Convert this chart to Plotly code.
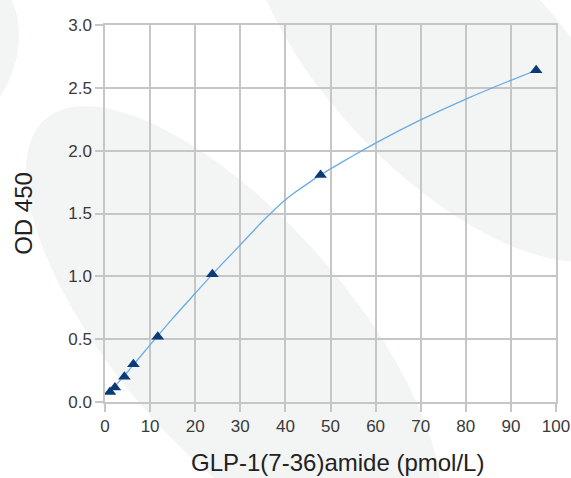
import numpy as np
import plotly.graph_objects as go

# ---- data ----
conc = [1.1, 2.2, 4.3, 6.3, 11.7, 23.8, 47.8, 95.6]          # GLP-1(7-36)amide (pmol/L)
od450 = [0.08, 0.115, 0.20, 0.30, 0.52, 1.016, 1.807, 2.64]   # OD 450

# fitted standard curve
fit_x = [1.1, 5, 10, 15, 20, 23.8, 30, 35, 40, 42, 45, 47.8, 50, 55, 60, 65, 70, 80, 90, 95.6]
fit_y = [0.08, 0.24, 0.455, 0.665, 0.865, 1.016, 1.25, 1.44, 1.61, 1.665, 1.74, 1.807,
         1.855, 1.96, 2.06, 2.155, 2.245, 2.41, 2.56, 2.64]

x_ticks = list(range(0, 101, 10))
y_ticks = [0.0, 0.5, 1.0, 1.5, 2.0, 2.5, 3.0]
x_title = "GLP-1(7-36)amide (pmol/L)"
y_title = "OD 450"

W, H = 571, 478
L, R, T, B = 105, 556, 25, 402   # plot area in pixels


def to_paper(px, py):
    return (px - L) / (R - L), (B - py) / (B - T)


def fit_ellipse(pts, n=180):
    p = np.asarray(pts, float)
    x, y = p[:, 0], p[:, 1]
    D = np.column_stack([x * x, x * y, y * y, x, y])
    A, Bc, C, Dd, E = np.linalg.lstsq(D, np.ones(len(x)), rcond=None)[0]
    M = np.array([[2 * A, Bc], [Bc, 2 * C]])
    c = np.linalg.solve(M, [-Dd, -E])
    F = A * c[0] ** 2 + Bc * c[0] * c[1] + C * c[1] ** 2 + Dd * c[0] + E * c[1] - 1
    Q = np.array([[A, Bc / 2], [Bc / 2, C]])
    lam, vec = np.linalg.eigh(Q)
    r = np.sqrt(-F / lam)
    t = np.linspace(0, 2 * np.pi, n)
    pts_out = c[:, None] + vec @ (r[:, None] * np.vstack([np.cos(t), np.sin(t)]))
    return pts_out.T


def ellipse(cx, cy, a, b, theta_deg, n=180):
    th = np.radians(theta_deg)
    t = np.linspace(0, 2 * np.pi, n)
    x = cx + a * np.cos(t) * np.cos(th) - b * np.sin(t) * np.sin(th)
    y = cy + a * np.cos(t) * np.sin(th) + b * np.sin(t) * np.cos(th)
    return np.column_stack([x, y])


def path_of(pts):
    s = []
    for i, (px, py) in enumerate(pts):
        u, v = to_paper(px, py)
        s.append(("M" if i == 0 else "L") + f"{u:.4f},{v:.4f}")
    return " ".join(s) + " Z"


bg = "#f3f4f4"
big_ll = fit_ellipse([(73, 104), (18, 167), (36, 233), (91, 333), (146, 400), (204, 478),
                      (200, 153), (333, 270), (400, 367), (437, 478), (40, 130), (120, 110)])
big_tr = fit_ellipse([(269, 0), (298, 60), (327, 120), (350, 135), (380, 140), (447, 193),
                      (513, 240), (571, 274), (537, 0), (571, 33)])
small_tl = ellipse(-55, 52, 90, 70, -65)

shapes = [dict(type="path", path=path_of(p), xref="paper", yref="paper",
               fillcolor=bg, line=dict(width=0), layer="below")
          for p in (big_ll, big_tr, small_tl)]

grid = "#c6c6c8"
font = "Liberation Sans, Arial, Helvetica, sans-serif"

fig = go.Figure()
fig.add_trace(go.Scatter(x=fit_x, y=fit_y, mode="lines",
                         line=dict(color="#6aade4", width=1.3, shape="spline", smoothing=0.6),
                         hoverinfo="skip", showlegend=False))
fig.add_trace(go.Scatter(x=conc, y=od450, mode="markers",
                         marker=dict(symbol="triangle-up", size=11, color="#0b3a78"),
                         showlegend=False))

axis_common = dict(showgrid=True, gridcolor=grid, gridwidth=1.5, zeroline=False,
                   showline=True, linecolor=grid, linewidth=1.5, mirror=True,
                   ticks="outside", ticklen=8, tickwidth=1.5, tickcolor=grid,
                   automargin=False,
                   tickfont=dict(family=font, size=17, color="#3a3a3a"))

fig.update_layout(
    width=W, height=H,
    margin=dict(l=L, r=W - R, t=T, b=H - B),
    paper_bgcolor="white", plot_bgcolor="rgba(0,0,0,0)",
    shapes=shapes,
    xaxis=dict(range=[0, 100], tickvals=x_ticks, ticktext=[str(v) for v in x_ticks],
               **axis_common),
    yaxis=dict(range=[0, 3], tickvals=y_ticks, ticktext=[f"{v:.1f}" for v in y_ticks],
               title=dict(text=y_title, font=dict(family=font, size=24, color="#222"), standoff=29),
               **axis_common),
    annotations=[dict(text=x_title, xref="paper", yref="paper",
                      x=(337 - L) / (R - L), y=(B - 462) / (B - T),
                      xanchor="center", yanchor="middle", showarrow=False,
                      font=dict(family=font, size=24, color="#222"))],
)

fig.write_html("out.html", config={"displayModeBar": False},
               post_script="document.body.style.margin='0';document.body.style.padding='0';"
                           "document.documentElement.style.overflow='hidden';")
